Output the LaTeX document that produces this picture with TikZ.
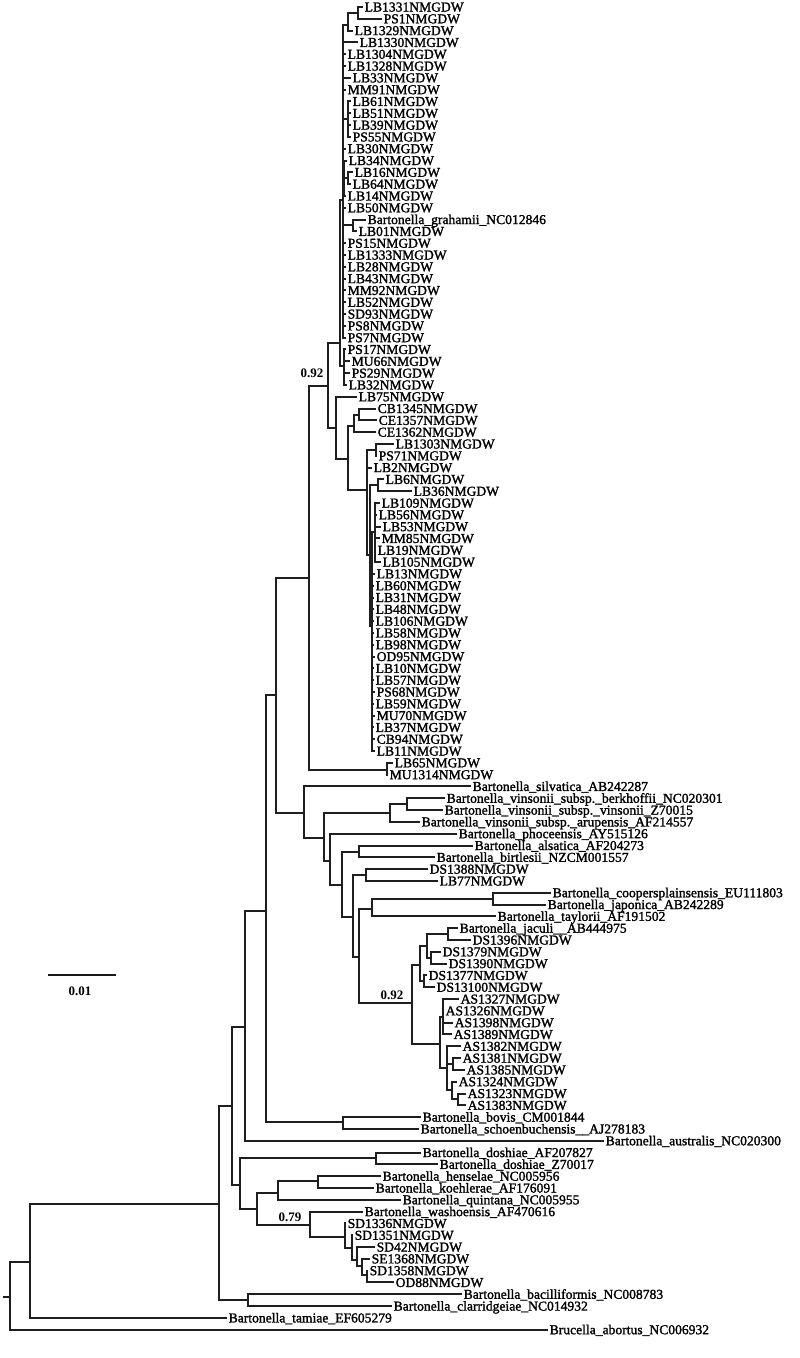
\documentclass[tikz,border=0pt]{standalone}
\usepackage{fontspec}
\setmainfont{Liberation Serif}
\newfontfamily\labfont[BoldFont=Liberation Serif, BoldFeatures={FakeBold=1.6}]{Liberation Serif}
\newcommand\lf[3]{\coordinate (l#1) at (#2,{7+11.81*(#1-1)}); \node[lab] (t#1) at (l#1) {#3};}
\newcommand\ed[2]{\foreach \kid in {#2}{\draw[br] (#1) |- (\kid);}}
\begin{document}
\begin{tikzpicture}[x=1pt,y=-1pt,
  br/.style={line width=2pt, draw=black!88, line cap=rect},
  lab/.style={anchor=west, inner sep=0pt, xshift=2.5pt, text height=9pt, text depth=0pt, font=\labfont\bfseries\fontsize{13.6}{14}\selectfont},
  bs/.style={inner sep=0pt, font=\bfseries\fontsize{13}{14}\selectfont}]
\useasboundingbox (0,0) rectangle (800,1358);
% leaves
\lf{1}{362}{LB1331NMGDW}
\lf{2}{381}{PS1NMGDW}
\lf{3}{352}{LB1329NMGDW}
\lf{4}{357}{LB1330NMGDW}
\lf{5}{345}{LB1304NMGDW}
\lf{6}{345}{LB1328NMGDW}
\lf{7}{350}{LB33NMGDW}
\lf{8}{345}{MM91NMGDW}
\lf{9}{350}{LB61NMGDW}
\lf{10}{350}{LB51NMGDW}
\lf{11}{350}{LB39NMGDW}
\lf{12}{350}{PS55NMGDW}
\lf{13}{345}{LB30NMGDW}
\lf{14}{346}{LB34NMGDW}
\lf{15}{352}{LB16NMGDW}
\lf{16}{350}{LB64NMGDW}
\lf{17}{345}{LB14NMGDW}
\lf{18}{345}{LB50NMGDW}
\lf{19}{365}{Bartonella\_grahamii\_NC012846}
\lf{20}{356}{LB01NMGDW}
\lf{21}{345}{PS15NMGDW}
\lf{22}{345}{LB1333NMGDW}
\lf{23}{345}{LB28NMGDW}
\lf{24}{345}{LB43NMGDW}
\lf{25}{345}{MM92NMGDW}
\lf{26}{345}{LB52NMGDW}
\lf{27}{345}{SD93NMGDW}
\lf{28}{345}{PS8NMGDW}
\lf{29}{345}{PS7NMGDW}
\lf{30}{345}{PS17NMGDW}
\lf{31}{349}{MU66NMGDW}
\lf{32}{349}{PS29NMGDW}
\lf{33}{346}{LB32NMGDW}
\lf{34}{356}{LB75NMGDW}
\lf{35}{375}{CB1345NMGDW}
\lf{36}{376}{CE1357NMGDW}
\lf{37}{375}{CE1362NMGDW}
\lf{38}{393}{LB1303NMGDW}
\lf{39}{376}{PS71NMGDW}
\lf{40}{371}{LB2NMGDW}
\lf{41}{383}{LB6NMGDW}
\lf{42}{411}{LB36NMGDW}
\lf{43}{379}{LB109NMGDW}
\lf{44}{376}{LB56NMGDW}
\lf{45}{380}{LB53NMGDW}
\lf{46}{379}{MM85NMGDW}
\lf{47}{375}{LB19NMGDW}
\lf{48}{380}{LB105NMGDW}
\lf{49}{374}{LB13NMGDW}
\lf{50}{373}{LB60NMGDW}
\lf{51}{373}{LB31NMGDW}
\lf{52}{373}{LB48NMGDW}
\lf{53}{373}{LB106NMGDW}
\lf{54}{373}{LB58NMGDW}
\lf{55}{373}{LB98NMGDW}
\lf{56}{374}{OD95NMGDW}
\lf{57}{373}{LB10NMGDW}
\lf{58}{373}{LB57NMGDW}
\lf{59}{374}{PS68NMGDW}
\lf{60}{373}{LB59NMGDW}
\lf{61}{374}{MU70NMGDW}
\lf{62}{373}{LB37NMGDW}
\lf{63}{374}{CB94NMGDW}
\lf{64}{374}{LB11NMGDW}
\lf{65}{392}{LB65NMGDW}
\lf{66}{387}{MU1314NMGDW}
\lf{67}{470}{Bartonella\_silvatica\_AB242287}
\lf{68}{444}{Bartonella\_vinsonii\_subsp.\_berkhoffii\_NC020301}
\lf{69}{442}{Bartonella\_vinsonii\_subsp.\_vinsonii\_Z70015}
\lf{70}{419}{Bartonella\_vinsonii\_subsp.\_arupensis\_AF214557}
\lf{71}{456}{Bartonella\_phoceensis\_AY515126}
\lf{72}{472}{Bartonella\_alsatica\_AF204273}
\lf{73}{434}{Bartonella\_birtlesii\_NZCM001557}
\lf{74}{427}{DS1388NMGDW}
\lf{75}{437}{LB77NMGDW}
\lf{76}{550}{Bartonella\_coopersplainsensis\_EU111803}
\lf{77}{545}{Bartonella\_japonica\_AB242289}
\lf{78}{495}{Bartonella\_taylorii\_AF191502}
\lf{79}{457}{Bartonella\_jaculi\_\_AB444975}
\lf{80}{470}{DS1396NMGDW}
\lf{81}{440}{DS1379NMGDW}
\lf{82}{446}{DS1390NMGDW}
\lf{83}{426}{DS1377NMGDW}
\lf{84}{434}{DS13100NMGDW}
\lf{85}{458}{AS1327NMGDW}
\lf{86}{443}{AS1326NMGDW}
\lf{87}{452}{AS1398NMGDW}
\lf{88}{451}{AS1389NMGDW}
\lf{89}{460}{AS1382NMGDW}
\lf{90}{460}{AS1381NMGDW}
\lf{91}{464}{AS1385NMGDW}
\lf{92}{456}{AS1324NMGDW}
\lf{93}{465}{AS1323NMGDW}
\lf{94}{465}{AS1383NMGDW}
\lf{95}{420}{Bartonella\_bovis\_CM001844}
\lf{96}{418}{Bartonella\_schoenbuchensis\_\_AJ278183}
\lf{97}{603}{Bartonella\_australis\_NC020300}
\lf{98}{420}{Bartonella\_doshiae\_AF207827}
\lf{99}{437}{Bartonella\_doshiae\_Z70017}
\lf{100}{380}{Bartonella\_henselae\_NC005956}
\lf{101}{373}{Bartonella\_koehlerae\_AF176091}
\lf{102}{400}{Bartonella\_quintana\_NC005955}
\lf{103}{362}{Bartonella\_washoensis\_AF470616}
\lf{104}{345}{SD1336NMGDW}
\lf{105}{352}{SD1351NMGDW}
\lf{106}{374}{SD42NMGDW}
\lf{107}{369}{SE1368NMGDW}
\lf{108}{367}{SD1358NMGDW}
\lf{109}{393}{OD88NMGDW}
\lf{110}{461}{Bartonella\_bacilliformis\_NC008783}
\lf{111}{391}{Bartonella\_clarridgeiae\_NC014932}
\lf{112}{226}{Bartonella\_tamiae\_EF605279}
\lf{113}{547}{Brucella\_abortus\_NC006932}
% internal nodes
\coordinate (stub) at (4,1297);
\coordinate (root) at (10,1297);
\coordinate (nA) at (30,1262);
\coordinate (nB) at (219,1204);
\coordinate (nBC) at (248,1300);
\coordinate (nC) at (232,1106);
\coordinate (nD) at (245,1027);
\coordinate (nF) at (266,911);
\coordinate (nBV) at (343,1122);
\coordinate (nG) at (276,695);
\coordinate (nH) at (309,578);
\coordinate (nLB) at (387,770);
\coordinate (nJ) at (328,386);
\coordinate (nK) at (340,343);
\coordinate (nK1) at (343,200);
\coordinate (nK2) at (344,366);
\coordinate (nW1) at (348,25);
\coordinate (nW) at (358,13);
\coordinate (nG1) at (348,119);
\coordinate (nG2) at (344,177);
\coordinate (nG3) at (348,178);
\coordinate (nG4) at (353,225);
\coordinate (nL) at (336,428);
\coordinate (nM) at (348,459);
\coordinate (nN) at (354,426);
\coordinate (nP) at (359,415);
\coordinate (nO) at (367,490);
\coordinate (nQ) at (376,450);
\coordinate (nS) at (370,555);
\coordinate (nT) at (378,485);
\coordinate (nU) at (372,626);
\coordinate (nV) at (375,532);
\coordinate (nI) at (304,813);
\coordinate (nI2) at (324,838);
\coordinate (nVin) at (390,813);
\coordinate (nVin2) at (407,804);
\coordinate (nI3) at (330,861);
\coordinate (nI4) at (342,885);
\coordinate (nAB) at (359,852);
\coordinate (nI5) at (353,917);
\coordinate (nDL) at (366,875);
\coordinate (nI6) at (359,957);
\coordinate (nT1) at (372,909);
\coordinate (nCJ) at (493,899);
\coordinate (nX) at (412,1003);
\coordinate (nX1) at (420,965);
\coordinate (nZ1) at (427,946);
\coordinate (nJ1) at (448,934);
\coordinate (nY) at (431,958);
\coordinate (nZ2) at (424,981);
\coordinate (nX2) at (440,1044);
\coordinate (nA1) at (443,1017);
\coordinate (nA2) at (447,1068);
\coordinate (nA3) at (453,1064);
\coordinate (nA4) at (452,1090);
\coordinate (nA5) at (458,1099);
\coordinate (nE) at (240,1185);
\coordinate (nD2) at (376,1158);
\coordinate (nQ1) at (257,1209);
\coordinate (nQ2) at (278,1193);
\coordinate (nQ3) at (318,1181);
\coordinate (nR1) at (310,1225);
\coordinate (nR2) at (345,1237);
\coordinate (nR3) at (352,1248);
\coordinate (nR4) at (357,1260);
\coordinate (nR5) at (362,1266);
\coordinate (nR6) at (367,1275);
% edges
\draw[br] (stub) -- (root);
\ed{root}{nA,l113}
\ed{nA}{nB,l112}
\ed{nB}{nC,nBC}
\ed{nBC}{l110,l111}
\ed{nC}{nD,nE}
\ed{nD}{nF,l97}
\ed{nF}{nG,nBV}
\ed{nBV}{l95,l96}
\ed{nG}{nH,nI}
\ed{nH}{nJ,nLB}
\ed{nLB}{l65,l66}
\ed{nJ}{nK,nL}
\ed{nK}{nK1,nK2}
\ed{nK1}{nW1,l4,l5,l6,l7,l8,nG1,l13,nG2,l18,nG4,l21,l22,l23,l24,l25,l26,l27,l28,l29}
\ed{nW1}{nW,l3}
\ed{nW}{l1,l2}
\ed{nG1}{l9,l10,l11,l12}
\ed{nG2}{l14,nG3,l17}
\ed{nG3}{l15,l16}
\ed{nG4}{l19,l20}
\ed{nK2}{l30,l31,l32,l33}
\ed{nL}{l34,nM}
\ed{nM}{nN,nO}
\ed{nN}{nP,l37}
\ed{nP}{l35,l36}
\ed{nO}{nQ,l40,nS}
\ed{nQ}{l38,l39}
\ed{nS}{nT,nU}
\ed{nT}{l41,l42}
\ed{nU}{nV,l49,l50,l51,l52,l53,l54,l55,l56,l57,l58,l59,l60,l61,l62,l63,l64}
\ed{nV}{l43,l44,l45,l46,l47,l48}
\ed{nI}{l67,nI2}
\ed{nI2}{nVin,nI3}
\ed{nVin}{nVin2,l70}
\ed{nVin2}{l68,l69}
\ed{nI3}{l71,nI4}
\ed{nI4}{nAB,nI5}
\ed{nAB}{l72,l73}
\ed{nI5}{nDL,nI6}
\ed{nDL}{l74,l75}
\ed{nI6}{nT1,nX}
\ed{nT1}{nCJ,l78}
\ed{nCJ}{l76,l77}
\ed{nX}{nX1,nX2}
\ed{nX1}{nZ1,nZ2}
\ed{nZ1}{nJ1,nY}
\ed{nJ1}{l79,l80}
\ed{nY}{l81,l82}
\ed{nZ2}{l83,l84}
\ed{nX2}{nA1,nA2}
\ed{nA1}{l85,l86,l87,l88}
\ed{nA2}{l89,nA3,nA4}
\ed{nA3}{l90,l91}
\ed{nA4}{l92,nA5}
\ed{nA5}{l93,l94}
\ed{nE}{nD2,nQ1}
\ed{nD2}{l98,l99}
\ed{nQ1}{nQ2,nR1}
\ed{nQ2}{nQ3,l102}
\ed{nQ3}{l100,l101}
\ed{nR1}{l103,nR2}
\ed{nR2}{l104,nR3}
\ed{nR3}{l105,nR4}
\ed{nR4}{l106,nR5}
\ed{nR5}{l107,nR6}
\ed{nR6}{l108,l109}
% support values
\node[bs] (b1) at (312,373) {0.92};
\node[bs] (b2) at (392,995) {0.92};
\node[bs] (b3) at (290,1217) {0.79};
% scale bar
\coordinate (sb1) at (48,975);
\coordinate (sb2) at (116,975);
\draw[line width=2.4pt, draw=black!90] (sb1) -- (sb2);
\node[bs] (sbl) at (80,991) {0.01};
\end{tikzpicture}
\end{document}
